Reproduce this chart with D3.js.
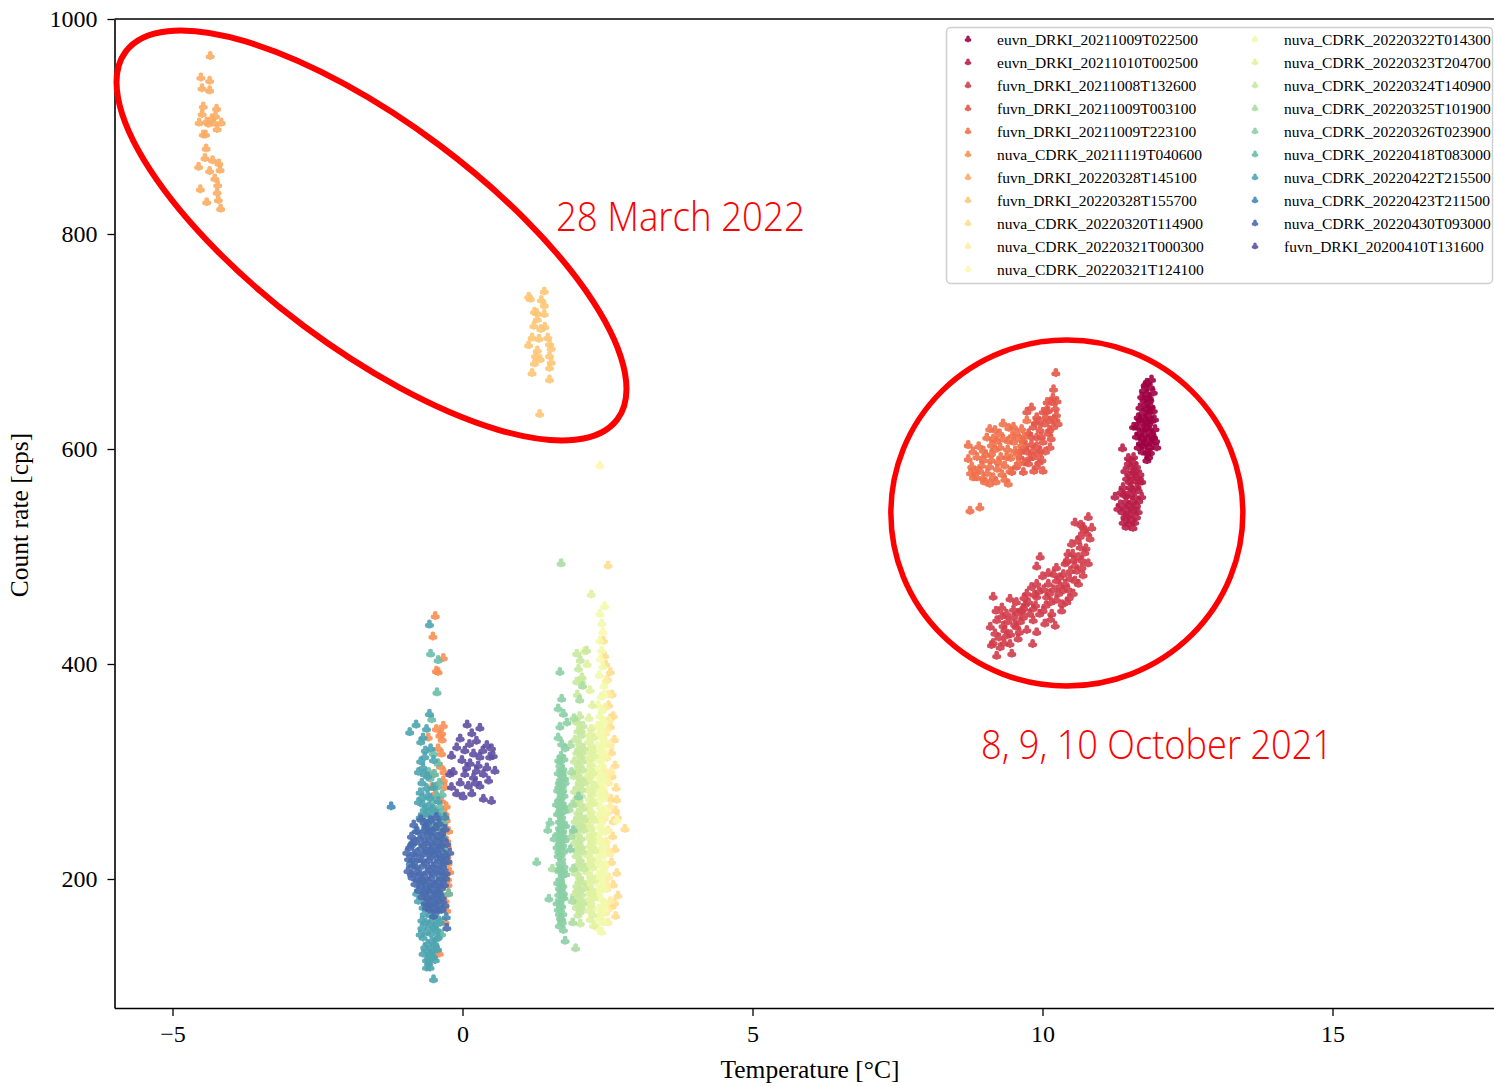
<!DOCTYPE html>
<html>
<head>
<meta charset="utf-8">
<script src="https://cdn.jsdelivr.net/npm/d3@7"></script>
<style>
  body { margin: 0; background: #fff; }
  svg { display: block; }
</style>
</head>
<body>
<svg id="chart" width="1494" height="1086"></svg>
<script>
// ---- data: measurement runs, each point = [temperature °C, count rate cps] ----
const seriesNames = [
  "euvn_DRKI_20211009T022500", "euvn_DRKI_20211010T002500", "fuvn_DRKI_20211008T132600",
  "fuvn_DRKI_20211009T003100", "fuvn_DRKI_20211009T223100", "nuva_CDRK_20211119T040600",
  "fuvn_DRKI_20220328T145100", "fuvn_DRKI_20220328T155700", "nuva_CDRK_20220320T114900",
  "nuva_CDRK_20220321T000300", "nuva_CDRK_20220321T124100", "nuva_CDRK_20220322T014300",
  "nuva_CDRK_20220323T204700", "nuva_CDRK_20220324T140900", "nuva_CDRK_20220325T101900",
  "nuva_CDRK_20220326T023900", "nuva_CDRK_20220418T083000", "nuva_CDRK_20220422T215500",
  "nuva_CDRK_20220423T211500", "nuva_CDRK_20220430T093000", "fuvn_DRKI_20200410T131600"
];

const s00 = [[11.88,665],[11.74,655],[11.91,653],[11.71,649],[11.85,646],[11.68,639],[11.80,638],[11.91,636],[11.65,630],[11.77,629],[11.88,627],[11.62,621],[11.74,619],[11.85,618],[11.94,619],[11.71,611],[11.82,610],[11.91,611],[11.74,604],[11.85,602],[11.97,602],[11.80,597],[11.65,602],[11.57,621],[11.80,652],[11.80,590],[11.78,642],[11.70,625],[11.83,624],[11.76,614],[11.88,606],[11.69,606],[11.82,632],[11.86,658],[11.77,660],
  [11.80,662],[11.84,648],[11.75,646],[11.87,640],[11.73,634],[11.84,636],[11.93,628],[11.80,626],[11.67,615],[11.79,620],[11.89,614],[11.77,606],[11.86,597],[11.72,598],[11.83,593],[11.95,608],[11.62,612],[11.68,628]];
const s01 = [[11.57,593],[11.48,587],[11.62,584],[11.42,580],[11.57,579],[11.68,577],[11.45,573],[11.59,571],[11.71,570],[11.39,565],[11.54,563],[11.65,562],[11.25,556],[11.45,557],[11.59,556],[11.71,556],[11.34,549],[11.48,548],[11.62,548],[11.37,542],[11.51,540],[11.65,542],[11.39,532],[11.48,531],[11.59,532],[11.38,601],[11.57,588],[11.51,565],[11.57,543],[11.52,576],[11.44,552],[11.55,551],[11.63,565],[11.42,537],
  [11.52,584],[11.60,580],[11.50,570],[11.62,574],[11.40,558],[11.52,558],[11.66,552],[11.44,545],[11.55,546],[11.62,537],[11.46,538],[11.53,534],[11.35,560],[11.48,592],[11.68,570],[11.30,545],[11.56,527],[11.44,528]];
const s02 = [[10.79,537],[10.56,532],[10.70,528],[10.76,522],[10.82,517],[10.50,512],[10.65,509],[10.73,504],[10.53,497],[10.68,497],[10.79,494],[9.96,500],[9.90,491],[10.39,494],[10.59,487],[10.70,483],[10.30,481],[10.47,480],[10.62,475],[10.10,475],[10.19,470],[10.36,469],[10.53,466],[9.81,472],[9.73,466],[9.90,463],[10.07,463],[10.24,460],[10.42,458],[9.15,463],[9.44,461],[9.55,458],[9.70,456],[9.84,452],[10.01,450],[10.16,447],[10.33,450],[9.38,447],[9.50,444],[9.67,444],[9.84,441],[10.04,438],[10.22,436],[9.21,441],[9.32,436],[9.55,435],[9.73,432],[9.90,430],[9.18,429],[9.38,427],[9.58,424],[9.12,418],[9.27,416],[9.44,419],[9.83,419],[9.21,408],[9.47,410],[10.65,519],[10.44,503],[10.19,484],[9.90,475],[9.64,450],[9.30,453],[10.39,475],[10.56,492],
  [9.25,425],[9.35,432],[9.45,428],[9.52,437],[9.62,440],[9.40,440],[9.30,445],[9.58,448],[9.68,452],[9.78,447],[9.76,458],[9.88,455],[9.95,447],[10.06,455],[9.94,468],[10.02,470],[10.12,466],[10.15,458],[10.28,466],[10.30,473],[10.44,470],[10.24,478],[10.36,484],[10.48,487],[10.42,496],[10.52,503],[10.62,500],[10.68,490],[10.75,508],[10.60,515],[10.72,525],[10.66,530],[10.85,527],[9.60,430],[9.15,420],[9.10,435],[9.34,420],[9.50,451],[10.10,485],[10.00,482],[10.24,490],[10.56,478],[10.46,462],[10.34,456],[9.86,465],[10.14,442],[9.68,462],[9.20,450]];
const s03 = [[10.23,671],[10.19,656],[10.16,644],[10.22,638],[10.10,636],[10.24,632],[10.01,635],[10.13,627],[10.27,624],[9.90,630],[10.04,624],[10.19,621],[9.84,621],[9.96,618],[10.10,615],[9.76,615],[9.90,611],[10.01,607],[10.13,602],[9.67,608],[9.81,605],[9.96,599],[9.73,598],[9.84,593],[9.99,590],[9.61,593],[9.76,587],[9.90,584],[9.67,579],[10.01,580],[9.47,579],[10.07,636],[9.81,639],[9.73,635],
  [10.18,648],[10.08,644],[10.25,645],[9.95,626],[10.06,630],[9.88,625],[9.98,612],[10.15,610],[9.80,612],[9.70,602],[9.90,603],[10.05,598],[9.78,592],[9.93,596],[9.68,588],[9.85,580],[9.55,584],[9.62,598],[10.20,628],[10.12,618],[9.94,588],[9.83,599]];
const s04 = [[8.72,604],[8.72,591],[9.09,619],[9.32,624],[9.18,618],[9.04,611],[8.87,593],[8.98,590],[9.12,596],[9.27,602],[9.41,608],[9.55,615],[9.64,619],[8.78,584],[8.92,580],[9.09,584],[9.24,588],[9.38,593],[9.53,599],[9.64,604],[8.81,574],[8.98,573],[9.15,574],[9.30,577],[9.44,580],[9.58,587],[9.09,568],[9.41,568],[8.75,543],[8.92,546],[9.50,607],[9.21,608],[8.98,599],[8.87,574],[9.35,585],[9.50,621],[9.73,627],
  [8.80,598],[8.90,603],[8.95,585],[9.02,595],[9.05,578],[9.12,590],[9.18,600],[9.22,582],[9.28,593],[9.32,610],[9.40,600],[9.45,592],[9.48,613],[9.35,572],[9.20,570],[9.00,570],[8.85,580],[9.12,604],[9.60,610],[9.56,596],[9.68,612],[8.76,578],[9.26,615],[9.42,620],[9.15,610]];
const s05 = [[-0.47,445],[-0.51,426],[-0.33,406],[-0.45,394],[-0.42,393],[-0.33,343],[-0.39,334],[-0.59,332],[-0.36,317],[-0.33,292],[-0.50,298],[-0.47,280],[-0.36,273],[-0.30,246],[-0.27,236],[-0.22,207],[-0.24,187],[-0.27,171],[-0.40,131],[-0.30,261],[-0.53,286],[-0.27,221],[-0.36,336],[-0.32,300],[-0.28,255],[-0.25,195],[-0.30,180],[-0.26,230],[-0.42,322],
  [-0.30,286],[-0.28,268],[-0.24,245],[-0.25,215],[-0.26,200],[-0.30,160],[-0.35,330],[-0.45,340],[-0.38,305]];
const s06 = [[-4.35,966],[-4.51,946],[-4.36,943],[-4.49,936],[-4.36,934],[-4.47,919],[-4.24,917],[-4.49,912],[-4.54,904],[-4.41,905],[-4.32,908],[-4.29,904],[-4.16,904],[-4.23,898],[-4.47,893],[-4.43,893],[-4.42,880],[-4.44,871],[-4.31,869],[-4.20,866],[-4.55,863],[-4.36,859],[-4.18,860],[-4.27,852],[-4.22,846],[-4.52,842],[-4.23,839],[-4.41,830],[-4.21,832],[-4.17,824],[-4.38,903],[-4.26,910]];
const s07 = [[1.14,742],[1.17,740],[1.41,747],[1.36,739],[1.41,734],[1.24,728],[1.28,727],[1.41,726],[1.29,721],[1.23,715],[1.42,714],[1.35,712],[1.20,704],[1.47,704],[1.32,703],[1.14,697],[1.50,698],[1.53,694],[1.29,692],[1.26,687],[1.50,687],[1.34,684],[1.53,681],[1.24,680],[1.50,676],[1.20,671],[1.50,665],[1.33,633]];
const s08 = [[2.51,492],[2.43,422],[2.45,408],[2.47,400],[2.55,393],[2.50,386],[2.58,372],[2.52,362],[2.60,352],[2.55,342],[2.62,330],[2.57,318],[2.63,306],[2.58,296],[2.65,285],[2.56,275],[2.64,264],[2.60,254],[2.80,247],[2.67,258],[2.59,240],[2.63,228],[2.57,216],[2.66,206],[2.60,195],[2.68,185],[2.58,175],[2.64,166],[2.62,178],[2.55,350],[2.66,274]];
const s09 = [[2.48,385],[2.52,372],[2.46,360],[2.53,348],[2.47,336],[2.55,325],[2.49,313],[2.44,302],[2.52,290],[2.47,279],[2.55,268],[2.45,257],[2.51,246],[2.48,235],[2.54,224],[2.46,213],[2.52,202],[2.49,191],[2.55,180],[2.47,169],[2.51,160],[2.44,328],[2.56,300],
  [2.50,340],[2.49,296],[2.50,262],[2.50,228],[2.49,196],[2.50,172]];
const s10 = [[2.37,585],[2.42,430],[2.38,405],[2.44,372],[2.40,346],[2.35,336],[2.45,320],[2.39,310],[2.34,296],[2.43,286],[2.38,276],[2.46,265],[2.36,255],[2.42,245],[2.33,235],[2.40,224],[2.45,214],[2.37,204],[2.42,193],[2.34,183],[2.44,172],[2.39,163],[2.30,158],[2.66,255]];
const s11 = [[2.45,454],[2.37,447],[2.40,438],[2.37,422],[2.40,413],[2.42,398],[2.36,390],[2.44,380],[2.39,370],[2.34,362],[2.41,357],[2.37,352],[2.44,347],[2.33,343],[2.40,338],[2.36,333],[2.46,329],[2.32,324],[2.39,320],[2.43,315],[2.35,311],[2.41,306],[2.31,302],[2.38,298],[2.45,293],[2.34,289],[2.40,284],[2.36,280],[2.43,275],[2.31,271],[2.38,267],[2.44,262],[2.34,258],[2.40,253],[2.36,249],[2.46,244],[2.32,240],[2.39,235],[2.43,231],[2.35,226],[2.41,222],[2.31,218],[2.38,213],[2.44,209],[2.34,204],[2.40,200],[2.36,195],[2.43,191],[2.32,187],[2.39,182],[2.45,178],[2.35,173],[2.41,169],[2.37,164],[2.43,160],[2.40,151],[2.33,155],
  [2.38,342],[2.41,326],[2.37,316],[2.40,294],[2.37,285],[2.41,278],[2.38,262],[2.41,246],[2.37,238],[2.40,228],[2.37,216],[2.41,205],[2.38,190],[2.41,176],[2.38,168]];
const s12 = [[2.20,376],[2.24,362],[2.18,350],[2.22,340],[2.26,332],[2.17,328],[2.23,324],[2.19,319],[2.27,315],[2.15,311],[2.22,307],[2.18,303],[2.25,299],[2.14,295],[2.21,291],[2.28,287],[2.17,283],[2.23,279],[2.19,275],[2.26,271],[2.15,267],[2.22,263],[2.18,259],[2.27,255],[2.14,251],[2.21,247],[2.25,243],[2.17,239],[2.23,235],[2.19,231],[2.28,227],[2.15,223],[2.22,219],[2.18,215],[2.25,211],[2.14,207],[2.21,203],[2.27,199],[2.17,195],[2.23,191],[2.19,187],[2.26,183],[2.15,179],[2.22,175],[2.18,171],[2.25,167],[2.26,157],[2.22,465],[2.10,412],[2.15,400],[2.06,384],
  [2.20,335],[2.24,320],[2.21,312],[2.20,296],[2.24,283],[2.21,270],[2.24,258],[2.20,250],[2.24,238],[2.20,226],[2.22,213],[2.20,199],[2.24,187],[2.21,178],[2.20,163],[2.24,230]];
const s13 = [[1.97,410],[2.03,404],[2.00,396],[2.14,413],[1.97,384],[2.06,388],[2.03,159],[1.98,372],[2.02,352],[1.96,347],[2.08,343],[1.99,338],[2.05,334],[1.94,330],[2.02,326],[2.09,322],[1.97,318],[2.04,314],[1.93,310],[2.00,306],[2.07,302],[1.96,298],[2.03,294],[2.10,290],[1.98,286],[1.93,282],[2.05,278],[2.01,274],[1.95,270],[2.08,266],[1.99,262],[2.04,258],[1.94,254],[2.02,250],[2.09,246],[1.97,242],[2.04,238],[1.93,234],[2.00,230],[2.07,226],[1.96,222],[2.03,218],[1.99,214],[2.10,210],[1.94,206],[2.02,202],[2.06,198],[1.97,194],[2.03,190],[1.93,186],[2.00,182],[2.08,178],[1.96,174],[2.03,170],[1.99,167],[2.11,256],[1.92,244],[2.11,192],[2.06,318],[1.92,296],
  [1.99,346],[2.05,338],[2.00,320],[2.06,310],[1.98,302],[2.01,290],[2.06,284],[1.97,276],[2.03,270],[1.99,258],[2.06,250],[1.98,246],[2.01,236],[2.05,230],[1.98,226],[2.06,214],[1.97,210],[2.01,198],[2.05,186],[1.98,178],[2.05,174],[2.00,190]];
const s14 = [[1.70,494],[1.95,136],[1.88,300],[1.90,270],[1.87,240],[1.91,210],[1.89,180],[1.86,325],[1.92,350],[1.55,210],[1.84,265],[1.90,160],[2.02,367],[2.07,380]];
const s15 = [[1.70,315],[1.66,311],[1.75,312],[1.68,306],[1.73,303],[1.65,299],[1.71,297],[1.76,294],[1.67,290],[1.72,287],[1.64,283],[1.70,281],[1.75,278],[1.66,274],[1.72,271],[1.69,267],[1.76,264],[1.64,261],[1.71,258],[1.67,254],[1.74,251],[1.69,247],[1.65,243],[1.72,240],[1.77,237],[1.67,233],[1.70,229],[1.74,226],[1.65,222],[1.71,219],[1.68,215],[1.75,212],[1.66,208],[1.72,204],[1.69,200],[1.64,197],[1.73,194],[1.70,190],[1.66,186],[1.75,183],[1.68,179],[1.71,175],[1.65,172],[1.73,168],[1.69,164],[1.72,160],[1.67,157],[1.74,187],[1.63,230],[1.78,250],[1.62,270],[1.78,205],[1.63,178],[1.77,290],[1.66,262],[1.73,245],[1.68,393],[1.71,368],[1.65,359],[1.74,354],[1.80,346],[1.68,342],[1.65,332],[1.71,326],[1.77,322],[1.51,253],[1.47,246],[1.28,216],[1.49,182],[1.74,153],[1.77,143],[2.00,277],[1.91,246],[1.58,238],[1.86,228],
  [1.68,310],[1.72,300],[1.69,293],[1.66,286],[1.73,283],[1.70,276],[1.67,269],[1.74,268],[1.70,262],[1.67,248],[1.71,244],[1.69,236],[1.73,232],[1.66,226],[1.70,223],[1.68,210],[1.72,208],[1.70,196],[1.67,192],[1.72,184],[1.69,176],[1.67,168],[1.71,163],[1.70,254],[1.68,240]];
const s16 = [[-0.55,410],[-0.42,404],[-0.44,374],[-0.53,349],[-0.50,317],[-0.42,308],[-0.56,294],[-0.44,286],[-0.39,267],[-0.36,246],[-0.44,236],[-0.30,224],[-0.24,187],[-0.42,159],[-0.36,149],[-0.47,137],[-0.59,126],[-0.50,273],[-0.65,261],[-0.39,202],[-0.35,279],[-0.40,255],[-0.33,240],[-0.48,298],[-0.38,172],[-0.45,145],[-0.40,290],[-0.47,265],[-0.35,212],[-0.52,128],[-0.58,300],
  [-0.45,278],[-0.38,262],[-0.42,250],[-0.32,252],[-0.37,232],[-0.40,222],[-0.33,205],[-0.36,185],[-0.44,180],[-0.40,150],[-0.48,155],[-0.34,230],[-0.50,248]];
const s17 = [[-0.57,437],[-0.57,354],[-0.80,344],[-0.91,337],[-0.68,332],[-0.72,328],[-0.65,314],[-0.68,304],[-0.50,311],[-0.70,290],[-0.73,281],[-0.76,272],[-0.68,270],[-0.62,261],[-0.56,255],[-0.73,258],[-0.59,242],[-0.47,249],[-0.50,286],[-0.42,273],[-0.56,276],[-0.44,261],[-0.60,296],[-0.52,266],[-0.64,248],[-0.53,180],[-0.68,174],[-0.56,167],[-0.44,165],[-0.70,162],[-0.50,156],[-0.62,151],[-0.68,146],[-0.53,143],[-0.65,137],[-0.56,131],[-0.62,125],[-0.56,118],[-0.50,107],[-0.76,180],[-0.39,177],[-0.79,187],[-0.42,187],[-0.73,149],[-0.42,146],[-0.68,131],[-0.47,125],[-0.60,190],[-0.48,195],[-0.66,168],[-0.58,158],[-0.45,153],[-0.60,140],[-0.52,134],[-0.58,122],[-0.64,184],[-0.36,195],[-0.38,160],
  [-0.46,175],[-0.60,177],[-0.54,172],[-0.64,160],[-0.55,150],[-0.48,140],[-0.60,134],[-0.70,155],[-0.52,162],[-0.43,135],[-0.62,118],[-0.50,128],[-0.66,190],[-0.62,285],[-0.70,276],[-0.58,268],[-0.66,265],[-0.54,260],[-0.60,278],[-0.66,298],[-0.72,310],[-0.64,320],[-0.76,300],[-0.55,322],[-0.62,340]];
const s18 = [[-1.23,268],[-0.88,232],[-0.80,245],[-0.60,252],[-0.30,258],[-0.28,165],[-0.72,198],[-0.90,215],[-0.45,188],[-0.55,226]];
const s19 = [[-0.72,256],[-0.55,255],[-0.40,252],[-0.84,251],[-0.63,250],[-0.47,248],[-0.30,247],[-0.78,245],[-0.58,244],[-0.36,243],[-0.88,240],[-0.68,240],[-0.50,239],[-0.33,238],[-0.80,235],[-0.62,234],[-0.44,234],[-0.27,233],[-0.91,230],[-0.72,229],[-0.55,229],[-0.38,228],[-0.84,224],[-0.66,224],[-0.48,223],[-0.30,223],[-0.93,219],[-0.76,219],[-0.58,218],[-0.41,218],[-0.25,217],[-0.86,213],[-0.68,213],[-0.51,212],[-0.34,212],[-0.94,208],[-0.79,207],[-0.61,207],[-0.44,207],[-0.28,206],[-0.87,202],[-0.70,201],[-0.54,201],[-0.37,201],[-0.82,196],[-0.64,196],[-0.47,195],[-0.31,195],[-0.76,190],[-0.58,190],[-0.41,189],[-0.70,184],[-0.52,184],[-0.35,183],[-0.64,178],[-0.47,178],[-0.30,176],[-0.57,172],[-0.42,171],[-0.50,166],[-0.27,155],[-0.22,225],[-0.96,225],[-0.66,253],[-0.45,258],
  [-0.65,246],[-0.52,244],[-0.42,240],[-0.74,238],[-0.57,236],[-0.36,232],[-0.86,234],[-0.68,232],[-0.50,231],[-0.44,226],[-0.62,226],[-0.78,225],[-0.36,220],[-0.54,221],[-0.70,218],[-0.85,219],[-0.32,216],[-0.46,214],[-0.63,215],[-0.80,212],[-0.56,209],[-0.73,206],[-0.38,208],[-0.88,205],[-0.50,205],[-0.66,203],[-0.29,201],[-0.78,200],[-0.42,198],[-0.58,198],[-0.72,194],[-0.36,192],[-0.54,192],[-0.66,188],[-0.46,186],[-0.60,183],[-0.40,180],[-0.55,177],[-0.35,172],[-0.48,172],[-0.62,174]];
const s20 = [[0.08,344],[0.30,341],[0.16,336],[-0.04,331],[0.24,329],[0.42,325],[0.50,322],[-0.10,323],[0.04,320],[0.19,317],[0.30,314],[0.53,315],[-0.19,315],[-0.01,311],[0.13,308],[0.27,306],[0.42,304],[0.56,301],[-0.16,300],[0.04,298],[0.19,295],[0.36,298],[-0.04,290],[0.10,287],[0.30,287],[0.45,292],[-0.19,286],[-0.10,280],[0.01,277],[0.16,280],[0.36,275],[0.50,273],[-0.22,298],[0.47,314],[0.07,304],[0.24,301],[0.12,326],[0.35,320],[0.22,290]];

const seriesPoints = [s00, s01, s02, s03, s04, s05, s06, s07, s08, s09, s10,
                      s11, s12, s13, s14, s15, s16, s17, s18, s19, s20];

const xTicks = [-5, 0, 5, 10, 15];
const yTicks = [200, 400, 600, 800, 1000];
const xDomain = [-6, 18];
const yDomain = [80, 1000];

// highlighted groups: centres in data units
const callouts = [
  { label: "28 March 2022", tx: 1.61, ty: 802.8, width: 249 },
  { label: "8, 9, 10 October 2021", tx: 8.94, ty: 311.6, width: 352 }
];
const rings = [
  { cx: -1.569, cy: 798.6, rx: 307, ry: 113, angle: 36.8, sw: 6 },
  { cx: 10.42, cy: 540.5, rx: 176, ry: 173, angle: 0, sw: 5.5 }
];

// ---- layout ----
const svg = d3.select("#chart");
const plot = { left: 114.5, top: 19, bottom: 1008 };
const x = d3.scaleLinear().domain(xDomain).range([plot.left, plot.left + 58 * (xDomain[1] - xDomain[0])]);
const y = d3.scaleLinear().domain(yDomain).range([plot.bottom, plot.top]);
const color = i => d3.interpolateSpectral(i / (seriesNames.length - 1));

// club-shaped marker
function clubPath(s) {
  const p = d3.path();
  const r = 2.1 * s;
  [[0, -1.9 * s], [-1.9 * s, 1.1 * s], [1.9 * s, 1.1 * s]].forEach(([cx, cy]) => {
    p.moveTo(cx + r, cy);
    p.arc(cx, cy, r, 0, 2 * Math.PI);
  });
  p.moveTo(-1.4 * s, -0.6 * s); p.lineTo(1.4 * s, -0.6 * s); p.lineTo(1.4 * s, 1.2 * s); p.lineTo(-1.4 * s, 1.2 * s); p.closePath();
  p.moveTo(-0.6 * s, 1 * s); p.lineTo(0.6 * s, 1 * s); p.lineTo(1.1 * s, 3.8 * s); p.lineTo(-1.1 * s, 3.8 * s); p.closePath();
  return p.toString();
}
const marker = clubPath(1.15);
const legendMarker = clubPath(0.85);

// ---- points ----
const pts = svg.append("g");
seriesPoints.forEach((data, i) => {
  pts.append("g")
    .selectAll("path")
    .data(data)
    .join("path")
    .attr("d", marker)
    .attr("transform", d => `translate(${x(d[0])},${y(d[1])})`)
    .attr("fill", color(i))
    .attr("fill-opacity", 0.9);
});

// ---- axes ----
const fmt = d => d < 0 ? "\u2212" + Math.abs(d) : String(d);
const xAxis = svg.append("g")
  .attr("transform", `translate(0,${plot.bottom})`)
  .call(d3.axisBottom(x).tickValues(xTicks).tickFormat(fmt).tickSize(8).tickPadding(9).tickSizeOuter(0));
const yAxis = svg.append("g")
  .attr("transform", `translate(${plot.left},0)`)
  .call(d3.axisLeft(y).tickValues(yTicks).tickFormat(d => String(d)).tickSize(7).tickPadding(10).tickSizeOuter(0));
[xAxis, yAxis].forEach(a => {
  a.selectAll("text").attr("font-family", "'Liberation Serif', serif").attr("font-size", 24).attr("fill", "#000");
  a.select(".domain").attr("stroke", "#000").attr("stroke-width", 1.6);
  a.selectAll(".tick line").attr("stroke", "#000").attr("stroke-width", 1.3);
});
svg.append("line")
  .attr("x1", x(xDomain[0])).attr("x2", x(xDomain[1]))
  .attr("y1", y(yDomain[1])).attr("y2", y(yDomain[1]))
  .attr("stroke", "#000").attr("stroke-width", 1.6);

svg.append("text")
  .attr("x", 810).attr("y", 1078)
  .attr("text-anchor", "middle")
  .attr("font-family", "'Liberation Serif', serif").attr("font-size", 25.5)
  .text("Temperature [°C]");
svg.append("text")
  .attr("transform", "translate(28,515) rotate(-90)")
  .attr("text-anchor", "middle")
  .attr("font-family", "'Liberation Serif', serif").attr("font-size", 25.5)
  .text("Count rate [cps]");

// ---- highlight rings and callouts ----
rings.forEach(r => {
  const cx = x(r.cx), cy = y(r.cy);
  svg.append("ellipse")
    .attr("cx", cx).attr("cy", cy).attr("rx", r.rx).attr("ry", r.ry)
    .attr("transform", `rotate(${r.angle},${cx},${cy})`)
    .attr("fill", "none").attr("stroke", "#ff0000").attr("stroke-width", r.sw);
});
callouts.forEach(c => {
  svg.append("text")
    .attr("x", x(c.tx)).attr("y", y(c.ty))
    .attr("font-family", "'Open Sans', sans-serif").attr("font-size", 40).attr("font-weight", 300)
    .attr("fill", "#ff0000")
    .attr("textLength", c.width).attr("lengthAdjust", "spacingAndGlyphs")
    .text(c.label);
});

// ---- legend ----
const legend = svg.append("g");
legend.append("rect")
  .attr("x", 946.5).attr("y", 27.5).attr("width", 546).attr("height", 256).attr("rx", 4)
  .attr("fill", "#fff").attr("fill-opacity", 0.85)
  .attr("stroke", "#d0d0d0").attr("stroke-width", 1.5);
const perCol = 11;
seriesNames.forEach((name, i) => {
  const col = Math.floor(i / perCol), row = i % perCol;
  const g = legend.append("g").attr("transform", `translate(${col ? 1255 : 968},${40 + row * 23})`);
  g.append("path").attr("d", legendMarker).attr("fill", color(i)).attr("fill-opacity", 0.9).attr("transform", "translate(0,-1)");
  g.append("text")
    .attr("x", 29).attr("y", 0).attr("dy", "0.33em")
    .attr("font-family", "'Liberation Serif', serif").attr("font-size", 15.5)
    .attr("fill", "#000")
    .text(name);
});
</script>
</body>
</html>
